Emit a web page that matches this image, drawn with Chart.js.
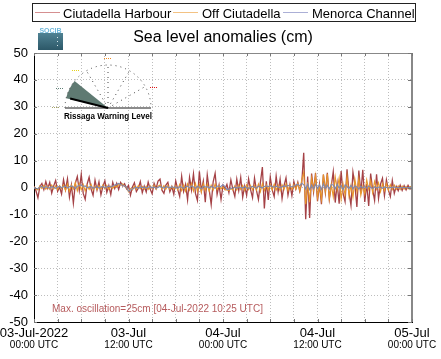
<!DOCTYPE html>
<html>
<head>
<meta charset="utf-8">
<script src="https://cdn.jsdelivr.net/npm/chart.js@4.4.0/dist/chart.umd.min.js"></script>
<style>
  html, body { margin: 0; padding: 0; background: #fff; }
</style>
</head>
<body>
<canvas id="myChart" width="441" height="359"></canvas>
<script>
// sea level anomalies, cm, one value every 15 min from 03-Jul 00:00 to 05-Jul 00:00
var stepHours = 0.25;

var harbour = [
  0.5, -1.2, -3.8, 0.4, 1.5, -0.8, 2.2, -0.3,
  1.9, -2.1, 0.6, 2.6, -1.4, 0.2, -2.4, 2.9,
  -0.8, 3.2, -3.6, 0.9, -5.8, 1.6, 4.1, -1.1,
  4.9, -2.2, -4.4, 1.3, 3.8, -0.6, -2.9, 2.7,
  -0.9, 2.1, -2.7, 0.4, 2.5, -1.8, 0.7, -2.6,
  1.9, -0.4, 1.6, -0.7, 1.9, 0.6, 1.4, -0.5,
  0.8, -2.9, 0.2, 1.8, -1.5, -0.3, 2.2, -1.9,
  0.5, -1.7, 2.0, -0.6, -2.3, 1.5, -0.4, 2.4,
  3.1, -1.0, -2.2, 0.9, 1.9, -1.6, 0.3, -2.5,
  2.4, -0.7, -3.3, 4.2, -1.5, 1.2, -4.6, 3.8,
  -0.9, 5.1, -2.2, -4.8, 6.0, -1.3, 2.4, -5.5,
  4.7, -0.8, -6.3, 2.1, 5.3, -2.6, 0.9, -4.4,
  0.8, -0.6, 1.2, -1.9, 2.8, -0.7, -3.3, 3.1,
  -1.2, 3.7, -3.6, 0.5, -2.9, 3.2, -0.8, -3.8,
  3.5, -1.1, -4.5, 1.9, 7.6, -7.8, 2.3, -4.6,
  3.9, -0.9, -3.4, 4.2, -1.6, 3.1, -4.1, 0.7,
  3.6, -2.8, 1.1, -3.0, 2.2, -0.6, 2.0, -1.4,
  1.7, 12.9, -11.8, 4.1, -11.3, 5.2, -1.6, 5.4,
  -5.1, 1.2, -6.2, 4.8, -1.9, 5.5, -4.3, 0.6,
  5.9, -5.6, 1.4, -6.0, 6.1, -2.3, -5.2, 6.8,
  -1.8, -6.6, 5.7, 0.9, -7.2, 6.3, -2.1, 6.6,
  -5.4, 1.3, -6.9, 5.2, -0.8, -4.8, 4.9, -4.1,
  1.2, 3.4, -3.1, 2.8, -0.9, -3.4, 2.6, -2.2,
  0.4, -1.2, 0.9, -1.1, 0.7, -0.9, 0.8, -0.6,
  0.3
];

var offCiutadella = [
  0.3, -0.5, -0.9, 0.6, -0.4, 0.8, -0.6, 0.5,
  -0.7, 0.9, -0.5, 0.6, -0.8, 0.7, -0.4, 0.9,
  -1.1, 1.3, -1.5, 0.9, -0.6, 1.8, -1.2, 1.4,
  -0.9, 1.1, -1.3, 0.8, -0.7, 1.2, -0.9, 0.6,
  -0.8, 0.7, -0.6, 0.9, -0.5, 0.8, -0.7, 0.5,
  -0.3, 0.6, 0.2, 1.1, 0.9, 1.3, 0.4, 0.1,
  -1.6, -0.4, -0.9, 0.5, -0.6, 0.7, -0.5, 0.4,
  -0.6, 0.5, -0.7, 0.6, -0.4, 0.8, -0.6, 0.5,
  0.9, -0.5, 0.7, -0.6, 0.8, -0.7, 0.5, -0.6,
  0.7, -0.9, 1.1, -1.2, 0.9, -1.4, 1.3, -1.0,
  1.5, -1.3, 1.6, -1.5, 1.2, -1.7, 1.4, -1.1,
  1.2, -1.4, 0.9, -1.0, 1.3, -0.8, 0.7, -0.5,
  0.2, -0.8, -0.9, -1.1, -0.4, -0.9, 0.6, -1.0,
  0.9, -0.7, 0.8, -1.1, 1.0, -0.8, 0.7, -0.9,
  0.8, -1.0, 1.3, -1.6, 1.5, -1.1, 0.9, -1.0,
  1.1, -0.9, 1.2, -1.0, 0.8, -1.2, 1.0, -0.7,
  1.4, -1.2, 0.9, -0.8, 1.1, -0.6, 1.6, -1.3,
  2.8, 5.6, -6.2, 1.9, -5.4, 3.6, -1.1, 4.4,
  -3.8, 0.7, -4.5, 4.8, -1.6, 5.1, -4.2, 1.2,
  -3.5, 4.0, -0.8, 3.6, -4.4, 1.3, -2.9, 4.2,
  -3.2, 0.8, -3.7, 3.1, -1.6, 3.4, -2.9, 0.5,
  -2.4, 2.9, -0.7, 2.6, -1.9, 2.3, -0.6, 1.8,
  -1.6, 1.4, -1.2, 1.5, -1.0, 1.1, -0.8, 0.9,
  -0.7, 0.6, -0.8, 0.5, -0.6, 0.4, -0.5, 0.4,
  0.2
];

var menorcaChannel = [
  0.1, -0.3, -0.5, 0.2, 0.4, -0.2, 0.3, 0.1,
  -0.2, 0.3, 0.1, -0.3, 0.2, 0.4, -0.1, 0.3,
  0.5, -0.2, 0.3, 0.6, 0.2, -0.4, 0.5, 0.7,
  1.0, 0.4, 0.6, -0.1, 0.2, 0.4, -0.3, 0.1,
  0.3, -0.2, 0.2, 0.4, -0.1, 0.3, 0.5, 0.2,
  0.6, 0.9, 1.2, 1.5, 1.1, 0.8, 0.5, 0.2,
  -1.4, -0.9, -0.6, -0.2, 0.1, -0.3, 0.2, -0.1,
  0.2, -0.2, 0.1, 0.3, -0.1, 0.2, -0.3, 0.1,
  0.4, 0.1, -0.2, 0.3, 0.2, -0.1, 0.3, 0.0,
  0.2, -0.3, 0.4, 0.1, -0.4, 0.3, 0.5, -0.2,
  0.6, 0.2, -0.3, 0.5, 0.1, -0.5, 0.4, 0.2,
  0.3, -0.2, 0.4, 0.1, -0.3, 0.6, 0.2, 0.5,
  1.0, 0.3, -0.8, -0.6, -0.4, -0.2, 0.1, -0.3,
  0.2, 0.1, -0.2, 0.3, 0.0, -0.4, 0.2, 0.4,
  0.1, -0.3, 0.5, 0.2, -0.2, 0.4, 0.6, 0.3,
  0.7, 0.4, 0.1, 0.5, 0.2, -0.1, 0.3, 0.6,
  0.4, 0.8, 0.5, 0.2, 0.6, 0.9, 1.2, 0.7,
  1.5, 1.1, -0.6, 1.3, -0.8, 0.9, -0.5, 1.2,
  -0.4, 1.0, -0.7, 1.4, -0.3, 0.8, -0.6, 1.1,
  0.9, -0.5, 1.3, -0.2, 0.7, -0.8, 1.0, 0.4,
  -0.3, 0.8, -0.5, 0.6, 0.2, -0.6, 0.5, -0.2,
  0.4, -0.3, 0.6, 0.1, -0.4, 0.3, -0.2, 0.2,
  0.1, -0.3, 0.2, 0.0, -0.2, 0.1, -0.1, 0.2,
  -0.1, 0.1, -0.2, 0.0, 0.1, -0.1, 0.0, 0.1,
  0.0
];

var seriesNames = ['Ciutadella Harbour', 'Off Ciutadella', 'Menorca Channel'];
var dayLabels = ['03-Jul-2022', '03-Jul', '04-Jul', '04-Jul', '05-Jul'];
var timeLabels = ['00:00 UTC', '12:00 UTC', '00:00 UTC', '12:00 UTC', '00:00 UTC'];
var maxNote = 'Max. oscillation=25cm [04-Jul-2022 10:25 UTC]';

var fam = '"Liberation Sans", Arial, Helvetica, sans-serif';

function toPoints(arr){
  return arr.map(function(v, i){ return { x: i * stepHours, y: v }; });
}

// legend, title, logo, gauge, frame and the second line of x labels
var decor = {
  id: 'decor',
  afterDraw: function(chart){
    var ctx = chart.ctx;
    var a = chart.chartArea;
    var xs = chart.scales.x, ys = chart.scales.y;
    ctx.save();

    // legend box
    ctx.strokeStyle = '#222';
    ctx.lineWidth = 1;
    ctx.strokeRect(32.5, 3.5, 383, 18);
    var legCol = ['#d58f90', '#f3c283', '#abafd6'];
    var lineX = [35, 173, 283];
    var textX = [63, 202, 312];
    ctx.font = '13px ' + fam;
    ctx.textBaseline = 'alphabetic';
    ctx.textAlign = 'left';
    for (var i = 0; i < 3; i++) {
      ctx.strokeStyle = legCol[i];
      ctx.beginPath();
      ctx.moveTo(lineX[i], 12.5);
      ctx.lineTo(lineX[i] + 25, 12.5);
      ctx.stroke();
      ctx.fillStyle = '#000';
      ctx.fillText(seriesNames[i], textX[i], 17.5);
    }

    // title
    ctx.font = '16px ' + fam;
    ctx.textAlign = 'center';
    ctx.fillText('Sea level anomalies (cm)', 223, 42);

    // SOCIB logo
    var g = ctx.createLinearGradient(0, 33, 0, 50);
    g.addColorStop(0, '#4f8293');
    g.addColorStop(1, '#2c5868');
    ctx.fillStyle = g;
    ctx.fillRect(38, 33, 25, 17);
    ctx.fillStyle = '#6fb7d9';
    ctx.font = 'bold 7px ' + fam;
    ctx.fillText('SOCIB', 50.5, 32.5);
    ctx.fillStyle = '#d8e6ea';
    ctx.fillRect(57, 37, 1, 1);
    ctx.fillRect(57, 41, 1, 1);
    ctx.fillRect(57, 45, 1, 1);

    // frame: gray top and right, inward ticks
    ctx.strokeStyle = '#888';
    ctx.lineWidth = 1;
    ctx.beginPath();
    ctx.moveTo(a.left, a.top + 0.5);
    ctx.lineTo(a.right, a.top + 0.5);
    ctx.stroke();
    ctx.lineWidth = 2;
    ctx.beginPath();
    ctx.moveTo(a.right, a.top);
    ctx.lineTo(a.right, a.bottom);
    ctx.stroke();
    ctx.lineWidth = 1;
    ctx.strokeStyle = '#777';
    xs.ticks.forEach(function(t){
      var px = Math.round(xs.getPixelForValue(t.value)) + 0.5;
      ctx.beginPath();
      ctx.moveTo(px, a.bottom); ctx.lineTo(px, a.bottom - 3);
      ctx.moveTo(px, a.top); ctx.lineTo(px, a.top + 3);
      ctx.stroke();
    });
    ys.ticks.forEach(function(t){
      var py = Math.round(ys.getPixelForValue(t.value)) + 0.5;
      ctx.beginPath();
      ctx.moveTo(a.left, py); ctx.lineTo(a.left + 3, py);
      ctx.moveTo(a.right, py); ctx.lineTo(a.right - 4, py);
      ctx.stroke();
    });

    // second line of the x labels
    ctx.fillStyle = '#000';
    ctx.font = '10px ' + fam;
    ctx.textAlign = 'center';
    xs.ticks.forEach(function(t){
      if (t.value % 12 === 0) {
        ctx.fillText(timeLabels[t.value / 12], xs.getPixelForValue(t.value), 348);
      }
    });

    // max oscillation note
    ctx.fillStyle = '#b65a5c';
    ctx.font = '10px ' + fam;
    ctx.textAlign = 'left';
    ctx.fillText(maxNote, 52, 312);

    // rissaga warning gauge
    var cx = 108, cy = 108, r = 43;
    ctx.fillStyle = '#5f7a72';
    ctx.beginPath();
    ctx.moveTo(cx, cy);
    ctx.arc(cx, cy, r, -141 * Math.PI / 180, -167 * Math.PI / 180, true);
    ctx.closePath();
    ctx.fill();

    ctx.strokeStyle = '#444';
    ctx.setLineDash([1, 4]);
    ctx.beginPath();
    ctx.arc(cx, cy, r, Math.PI, 2 * Math.PI);
    ctx.stroke();
    [30, 60, 90, 120].forEach(function(deg){
      var rad = -deg * Math.PI / 180;
      ctx.beginPath();
      ctx.moveTo(cx, cy);
      ctx.lineTo(cx + Math.cos(rad) * r, cy + Math.sin(rad) * r);
      ctx.stroke();
    });
    ctx.setLineDash([]);

    ctx.strokeStyle = '#666';
    ctx.lineWidth = 1.5;
    ctx.beginPath();
    ctx.moveTo(cx - r, cy);
    ctx.lineTo(cx + r, cy);
    ctx.stroke();

    ctx.strokeStyle = '#000';
    ctx.lineWidth = 2;
    ctx.beginPath();
    ctx.moveTo(cx, cy);
    ctx.lineTo(cx + Math.cos(-166 * Math.PI / 180) * 39, cy + Math.sin(-166 * Math.PI / 180) * 39);
    ctx.stroke();

    // small colored level marks round the gauge
    var marks = [['#a7a464', 52, 107], ['#5f8076', 56, 88], ['#e6d21a', 72, 70], ['#f08a1e', 104, 58], ['#e01818', 150, 87]];
    ctx.lineWidth = 1;
    marks.forEach(function(m){
      ctx.strokeStyle = m[0];
      ctx.setLineDash([1, 1]);
      ctx.beginPath();
      ctx.moveTo(m[1], m[2] + 0.5);
      ctx.lineTo(m[1] + 7, m[2] + 0.5);
      ctx.stroke();
    });
    ctx.setLineDash([]);

    ctx.fillStyle = '#000';
    ctx.font = 'bold 9px ' + fam;
    ctx.textAlign = 'center';
    ctx.fillText('Rissaga Warning Level', cx, 118.5, 88);

    ctx.restore();
  }
};

var grafica = new Chart(document.getElementById('myChart'), {
  type: 'line',
  data: {
    datasets: [
      { label: seriesNames[0], data: toPoints(harbour), borderColor: 'rgba(155,45,50,0.9)', borderWidth: 1.3, order: 3 },
      { label: seriesNames[1], data: toPoints(offCiutadella), borderColor: '#e8962c', borderWidth: 1.1, order: 2 },
      { label: seriesNames[2], data: toPoints(menorcaChannel), borderColor: '#7f88ae', borderWidth: 1.1, order: 1 }
    ]
  },
  options: {
    responsive: false,
    animation: false,
    layout: { padding: { top: 53, right: 29, left: 0, bottom: 0 } },
    elements: { point: { radius: 0 }, line: { tension: 0 } },
    plugins: {
      legend: { display: false },
      title: { display: false },
      tooltip: { enabled: false }
    },
    scales: {
      x: {
        type: 'linear',
        min: 0,
        max: 48,
        afterFit: function(s){ s.height = 37; s.paddingLeft = 0; s.paddingRight = 0; },
        ticks: {
          stepSize: 3,
          autoSkip: false,
          maxRotation: 0,
          padding: 4,
          color: '#000',
          font: { family: fam, size: 13 },
          callback: function(v){ return v % 12 === 0 ? dayLabels[v / 12] : ''; }
        },
        grid: { color: '#bdbdbd', drawTicks: false },
        border: { color: '#000', width: 1, dash: [1, 2] }
      },
      y: {
        min: -50,
        max: 50,
        afterFit: function(s){ s.width = 34; },
        ticks: {
          stepSize: 10,
          padding: 6,
          color: '#000',
          font: { family: fam, size: 13 }
        },
        grid: { color: '#bdbdbd', drawTicks: false },
        border: { color: '#000', width: 1, dash: [1, 2] }
      }
    }
  },
  plugins: [decor]
});
</script>
</body>
</html>
